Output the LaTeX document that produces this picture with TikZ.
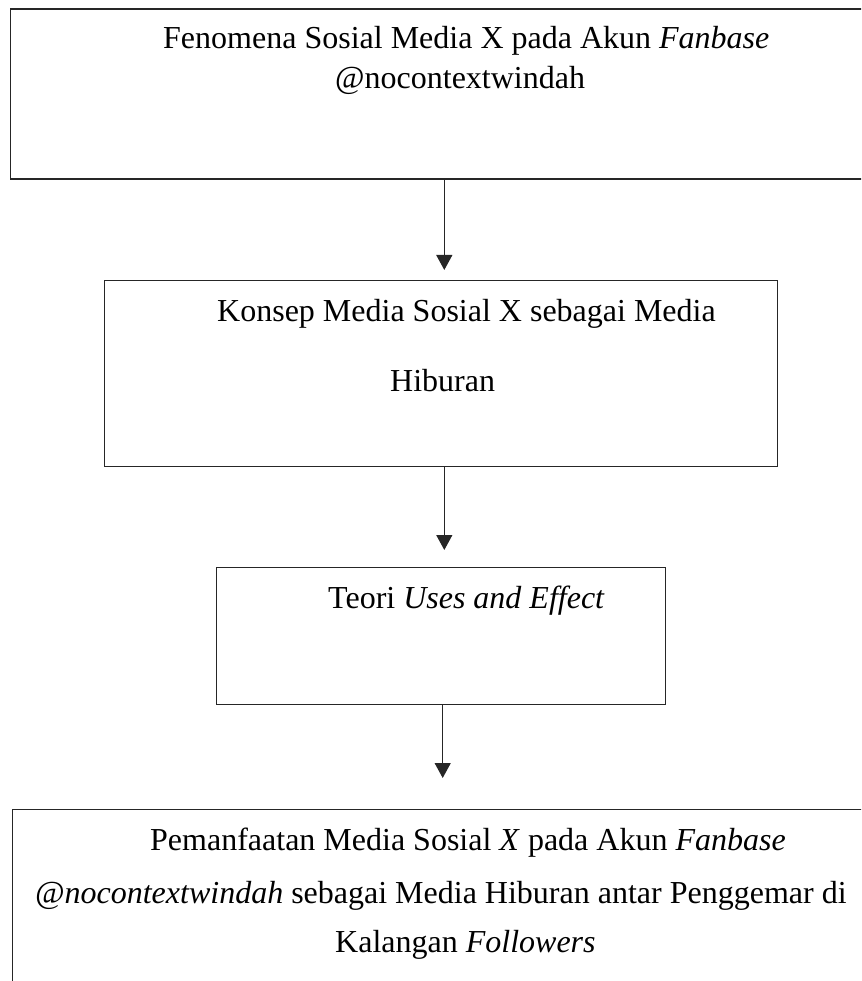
\documentclass[tikz,border=0pt]{standalone}
\usepackage{fontspec}
\setmainfont{Liberation Serif}
\usetikzlibrary{arrows.meta}
\begin{document}
\begin{tikzpicture}[x=1pt,y=-1pt,
  box/.style={draw=black!85,line width=1.3pt,inner sep=0pt,outer sep=0pt,anchor=north west},
  txt/.style={anchor=base west,inner sep=0pt,font=\fontsize{32}{38}\selectfont},
  arr/.style={draw=black!85,line width=1.3pt,-{Triangle[width=16pt,length=15pt]}}]
\useasboundingbox (0,0) rectangle (861,981);
\clip (0,0) rectangle (861,981);
% boxes
\node[box,minimum width=864pt,minimum height=170pt] (b1) at (10.7,9) {};
\node[box,minimum width=673.4pt,minimum height=186pt] (b2) at (104.3,280.7) {};
\node[box,minimum width=448.6pt,minimum height=137pt] (b3) at (216.7,567.3) {};
\node[box,minimum width=862pt,minimum height=191pt] (b4) at (12.7,809.3) {};
% arrows
\coordinate (t1) at (444.3,270);
\coordinate (t2) at (444.3,550);
\coordinate (t3) at (442.7,778);
\draw[arr] (b1.south -| t1) -- (t1);
\draw[arr] (b2.south -| t2) -- (t2);
\draw[arr] (b3.south -| t3) -- (t3);
% texts
\node[txt] (l1a) at (163,49) {Fenomena Sosial Media X pada Akun \textit{Fanbase}};
\node[txt] (l1b) at (335,89) {@nocontextwindah};
\node[txt] (l2a) at (217,321) {Konsep Media Sosial X sebagai Media};
\node[txt] (l2b) at (390,391) {Hiburan};
\node[txt] (l3a) at (328,608) {Teori \textit{Uses and Effect}};
\node[txt] (l4a) at (150,850) {Pemanfaatan Media Sosial \textit{X} pada Akun \textit{Fanbase}};
\node[txt] (l4b) at (35,903) {\textit{@nocontextwindah} sebagai Media Hiburan antar Penggemar di};
\node[txt] (l4c) at (335,952) {Kalangan \textit{Followers}};
\end{tikzpicture}
\end{document}
